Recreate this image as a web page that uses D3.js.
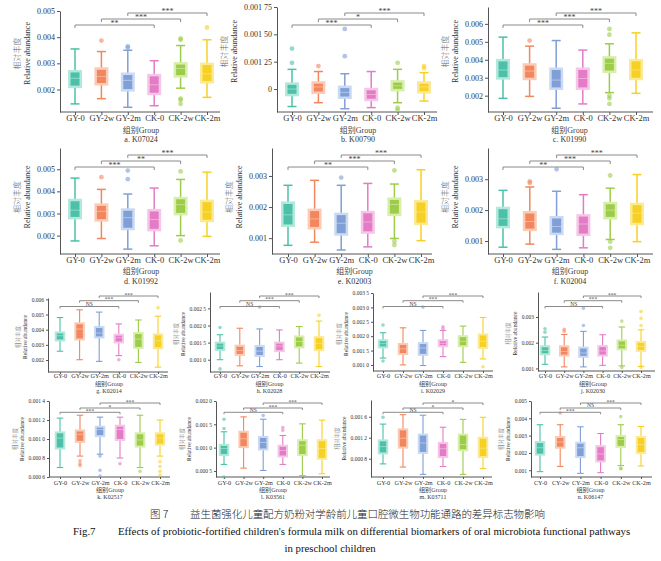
<!DOCTYPE html>
<html>
<head>
<meta charset="utf-8">
<script src="https://cdn.jsdelivr.net/npm/d3@7"></script>
<style>
  body { margin: 0; background: #fff; }
  svg { display: block; }
  text { font-family: "Liberation Serif", "Noto Sans CJK SC", serif; }
</style>
</head>
<body>
<script>
// ---- data ----
const groups  = ["GY-0", "GY-2w", "GY-2m", "CK-0", "CK-2w", "CK-2m"];
const groupsN = ["CY-0", "CY-2w", "CY-2m", "CK-0", "CK-2w", "CK-2m"]; // panel n is labelled CY in the source
const colors = ["#4cc0a8", "#f2875f", "#809fd7", "#e37cc5", "#9ccc49", "#f7d024"];
const lights = ["#b3e9db", "#fbcbb6", "#cbdaf3", "#f5c6e7", "#d8eeab", "#fce995"];

// each row: [low whisker, Q1, median, Q3, high whisker]
const boxA = [[0.00145,0.0021,0.00243,0.0027,0.00355],[0.00165,0.0022,0.0025,0.0028,0.00345],[0.00132,0.00197,0.00235,0.0026,0.0035],[0.00138,0.00183,0.00218,0.00255,0.0031],[0.00205,0.0025,0.0028,0.003,0.00368],[0.0017,0.00228,0.0026,0.00298,0.0039]];
const outA = [[],[0.00387],[0.00365,0.0036],[],[0.0039,0.00395,0.00165,0.0016,0.00145],[0.00437]];

const boxB = [[0.00084,0.000945,0.001,0.00105,0.00118],[0.000875,0.000966,0.00102,0.00106,0.00116],[0.00082,0.00092,0.00097,0.00102,0.00114],[0.00083,0.0009,0.00095,0.001,0.00116],[0.000875,0.00099,0.00103,0.00107,0.00118],[0.00089,0.00097,0.00102,0.00106,0.00115]];
const outB = [[0.00137,0.00124],[0.00121],[0.00155,0.0013],[],[0.00124,0.00083,0.00081],[0.00121,0.00119]];

const boxC = [[0.00185,0.00296,0.00343,0.00398,0.00526],[0.00196,0.00293,0.00337,0.00374,0.00476],[0.0013,0.00239,0.00287,0.0035,0.00507],[0.00154,0.00239,0.00296,0.0035,0.00454],[0.00217,0.00333,0.0038,0.00413,0.00489],[0.00213,0.00293,0.00343,0.00398,0.0055]];
const outC = [[],[0.00507],[],[],[0.00572,0.0054,0.002,0.00185,0.00154],[]];

const boxD = [[0.00176,0.00279,0.00315,0.00361,0.0046],[0.00187,0.00269,0.0031,0.0034,0.00409],[0.00139,0.0023,0.00281,0.00318,0.00388],[0.00154,0.00225,0.00273,0.00315,0.00415],[0.002,0.00297,0.0034,0.0037,0.00454],[0.00197,0.00266,0.00307,0.00357,0.00487]];
const outD = [[],[0.00464],[0.00494,0.00455],[],[0.0049,0.00178],[]];

const boxE = [[0.00077,0.0014,0.00175,0.00214,0.0027],[0.00087,0.00132,0.00162,0.00191,0.00286],[0.00062,0.00112,0.00148,0.00178,0.0027],[0.00072,0.00118,0.00152,0.00184,0.00276],[0.00099,0.00175,0.00208,0.00227,0.00274],[0.00092,0.00146,0.00184,0.00219,0.0032]];
const outE = [[],[],[0.00295],[],[0.00318,0.0009,0.00078],[]];

const boxF = [[0.0008,0.00145,0.00172,0.00207,0.00264],[0.0009,0.00136,0.00163,0.00193,0.00275],[0.00073,0.00123,0.00147,0.00177,0.00261],[0.00078,0.0012,0.00155,0.00183,0.0025],[0.00105,0.00174,0.002,0.00223,0.00271],[0.00098,0.00155,0.0019,0.0022,0.00315]];
const outF = [[],[0.00293,0.00288],[0.00332],[],[0.00312,0.00098,0.00078],[]];

const boxG = [[0.00258,0.00329,0.0036,0.00382,0.0048],[0.00202,0.00336,0.00404,0.00442,0.00531],[0.00191,0.00349,0.00378,0.00418,0.00516],[0.00229,0.00316,0.00347,0.00367,0.00438],[0.00184,0.0028,0.00338,0.00378,0.00464],[0.00153,0.00278,0.00327,0.00369,0.00489]];
const outG = [[],[],[],[0.00202],[],[0.00544]];

const boxH = [[0.001,0.00128,0.0014,0.0015,0.00173],[0.00082,0.00114,0.00127,0.00141,0.00192],[0.0008,0.00111,0.00125,0.0014,0.0019],[0.001,0.00125,0.0014,0.0015,0.00187],[0.0009,0.00136,0.00153,0.00168,0.00197],[0.0008,0.00128,0.00148,0.00166,0.00213]];
const outH = [[0.00194,0.00073],[],[0.00254],[],[],[0.0023]];

const boxI = [[0.00124,0.00161,0.00174,0.00186,0.00212],[0.001,0.00138,0.00156,0.00173,0.00229],[0.00098,0.00135,0.00159,0.00176,0.0022],[0.00129,0.00165,0.00175,0.00186,0.0022],[0.00109,0.00165,0.00182,0.002,0.00235],[0.00121,0.00159,0.00182,0.00206,0.00265]];
const outI = [[0.00239,0.00114],[],[0.00301],[0.00233,0.00226],[],[0.00094]];

const boxJ = [[0.00116,0.00155,0.0017,0.00186,0.00222],[0.00106,0.0015,0.00166,0.00186,0.00232],[0.00106,0.00145,0.0016,0.00181,0.00244],[0.00112,0.0015,0.00168,0.00187,0.00231],[0.0011,0.00174,0.0019,0.00209,0.00261],[0.00108,0.00168,0.00186,0.00203,0.0025]];
const outJ = [[0.00254,0.00241],[0.00252,0.00244],[0.00334,0.00267],[],[0.00284,0.00104],[0.00321,0.00295,0.00267,0.00104]];

const boxK = [[0.0007,0.0009,0.00101,0.00107,0.00122],[0.00082,0.00097,0.00105,0.00109,0.00125],[0.00084,0.00103,0.0011,0.00113,0.00123],[0.0008,0.00099,0.0011,0.00114,0.00123],[0.0007,0.00092,0.00099,0.00106,0.00125],[0.00082,0.00094,0.00101,0.00106,0.0012]];
const outK = [[],[0.00077,0.00074,0.00072],[0.00082,0.00067,0.00061],[0.00074],[0.00066],[0.00076,0.00071,0.00066,0.00062]];

const boxL = [[0.00064,0.00084,0.00098,0.00106,0.00134],[0.00056,0.00101,0.00119,0.00134,0.00166],[0.00051,0.00096,0.00111,0.00123,0.00161],[0.00064,0.00081,0.00094,0.00104,0.00126],[0.0004,0.00084,0.00105,0.00116,0.00151],[0.00044,0.00076,0.00098,0.00116,0.00159]];
const outL = [[0.00161,0.00141,0.00037],[],[0.00169],[0.00143,0.00137],[],[]];

const boxM = [[0.0007,0.0009,0.00103,0.00115,0.00146],[0.00064,0.00101,0.00119,0.00136,0.00164],[0.0005,0.00091,0.0011,0.00126,0.00163],[0.00065,0.00083,0.00099,0.0011,0.0014],[0.0005,0.00096,0.00107,0.00126,0.00155],[0.00061,0.00083,0.001,0.0012,0.00159]];
const outM = [[0.00159],[],[],[],[],[]];

const boxN = [[0.00092,0.0019,0.0023,0.00263,0.00363],[0.00122,0.0023,0.00263,0.00292,0.00363],[0.00082,0.00176,0.0023,0.00259,0.00351],[0.00086,0.00151,0.00194,0.00239,0.00312],[0.00127,0.00235,0.00278,0.00298,0.00363],[0.00125,0.002,0.00249,0.00292,0.00353]];
const outN = [[],[0.00431],[],[],[0.0041,0.00112,0.00108],[]];

// y tick values and their printed labels
const ticksA = [0.002,0.003,0.004,0.005],  tlabA = ["0.002","0.003","0.004","0.005"];
const ticksB = [0.001,0.00125,0.0015,0.00175], tlabB = ["0","0.001 25","0.001 50","0.001 75"];
const ticksC = [0.002,0.003,0.004,0.005,0.006], tlabC = ["0.002","0.003","0.004","0.005","0.006"];
const ticksD = [0.002,0.003,0.004,0.005],  tlabD = ["0.002","0.003","0.004","0.005"];
const ticksE = [0.001,0.002,0.003], tlabE = ["0.001","0.002","0.003"];
const ticksF = [0.001,0.002,0.003], tlabF = ["0.001","0.002","0.003"];
const ticksG = [0.002,0.003,0.004,0.005,0.006], tlabG = ["0.002","0.003","0.004","0.005","0.006"];
const ticksH = [0.001,0.0015,0.002,0.0025], tlabH = ["0.001 0","0.001 5","0.002 0","0.002 5"];
const ticksI = [0.001,0.0015,0.002,0.0025,0.003,0.0035], tlabI = ["0.001 0","0.001 5","0.002 0","0.002 5","0.003 0","0.003 5"];
const ticksJ = [0.001,0.002,0.003], tlabJ = ["0.001","0.002","0.003"];
const ticksK = [0.0006,0.0008,0.001,0.0012,0.0014], tlabK = ["0.000 6","0.000 8","0.001 0","0.001 2","0.001 4"];
const ticksL = [0.0005,0.001,0.0015,0.002], tlabL = ["0.000 5","0.001 0","0.001 5","0.002 0"];
const ticksM = [0.0008,0.0012,0.0016], tlabM = ["0.000 8","0.001 2","0.001 6"];
const ticksN = [0.001,0.002,0.003,0.004,0.005], tlabN = ["0.001","0.002","0.003","0.004","0.005"];

// significance for pairs (GY-0,CK-0), (GY-2w,CK-2w), (GY-2m,CK-2m)
const sigPairs = [[0,3],[1,4],[2,5]];
const sigA = ["**","***","***"], sigB = ["***","*","***"], sigC = ["***","***","***"];
const sigD = ["***","**","***"], sigE = ["**","***","***"], sigF = ["**","***","***"];
const sigG = ["NS","***","***"], sigH = ["NS","***","***"], sigI = ["NS","***","***"], sigJ = ["NS","***","***"];
const sigK = ["***","*","***"], sigL = ["NS","***","***"], sigM = ["NS","*","*"], sigN = ["***","NS","***"];

const titles = ["a. K07024","b. K00790","c. K01990","d. K01992","e. K02003","f. K02004","g. K02014",
                "h. K02028","i. K02029","j. K02030","k. K02517","l. K03561","m. K03711","n. K06147"];

// ---- layout ----
const W = 661, H = 561;
const rows = [
  {br:[25,19,13],        xlab:121,   grp:133, ttl:142, tdy:-8, big:true},
  {br:[167,161,155],     xlab:263,   grp:274, ttl:284, tdy:-4, big:true},
  {br:[306.5,300.7,296], xlab:378,   grp:386, ttl:393, tdy:2,  big:false},
  {br:[412.3,408,403],   xlab:484.5, grp:492, ttl:499, tdy:0,  big:false}
];
const big   = {boxW:11.5, bs:2.5, capW:9,   wk:1.5, r:2.4, tick:3, xf:8.5, yf:8,   gf:8,   tf:8,   sf:8,   ytf:8,   en:7, cn:17, bt:3};
const small = {boxW:8.5,  bs:2,   capW:6.5, wk:1.1, r:1.8, tick:2, xf:6.2, yf:5.5, gf:6.2, tf:6,   sf:5.6, ytf:5.6, en:5, cn:12, bt:2};

const panels = [
  {box:boxA, out:outA, ticks:ticksA, tl:tlabA, sig:sigA, row:0, ax:60,  xe:220, c0:75,  c1:207, yt:11,  yb:112, lo:0.00114, hi:0.005},
  {box:boxB, out:outB, ticks:ticksB, tl:tlabB, sig:sigB, row:0, ax:277, xe:437, c0:292, c1:424, yt:7,   yb:112, lo:0.00079, hi:0.00175},
  {box:boxC, out:outC, ticks:ticksC, tl:tlabC, sig:sigC, row:0, ax:488, xe:653, c0:503, c1:636, yt:7,   yb:112, lo:0.00109, hi:0.00694},
  {box:boxD, out:outD, ticks:ticksD, tl:tlabD, sig:sigD, row:1, ax:60,  xe:220, c0:75,  c1:207, yt:148, yb:254, lo:0.00117, hi:0.00596},
  {box:boxE, out:outE, ticks:ticksE, tl:tlabE, sig:sigE, row:1, ax:272, xe:432, c0:288, c1:421, yt:148, yb:254, lo:0.00049, hi:0.0039},
  {box:boxF, out:outF, ticks:ticksF, tl:tlabF, sig:sigF, row:1, ax:488, xe:653, c0:503, c1:637, yt:148, yb:254, lo:0.00058, hi:0.00401},
  {box:boxG, out:outG, ticks:ticksG, tl:tlabG, sig:sigG, row:2, ax:48,  xe:168, c0:60,  c1:158, yt:298, yb:372, lo:0.00121, hi:0.00609},
  {box:boxH, out:outH, ticks:ticksH, tl:tlabH, sig:sigH, row:2, ax:210, xe:330, c0:220, c1:319, yt:292, yb:372, lo:0.00064, hi:0.00298},
  {box:boxI, out:outI, ticks:ticksI, tl:tlabI, sig:sigI, row:2, ax:373, xe:493, c0:383, c1:483, yt:293, yb:371, lo:0.00079, hi:0.0035},
  {box:boxJ, out:outJ, ticks:ticksJ, tl:tlabJ, sig:sigJ, row:2, ax:538, xe:655, c0:545, c1:641, yt:292, yb:371, lo:0.0009,  hi:0.00397},
  {box:boxK, out:outK, ticks:ticksK, tl:tlabK, sig:sigK, row:3, ax:49,  xe:170, c0:60,  c1:160, yt:401, yb:477, lo:0.0006,  hi:0.0014},
  {box:boxL, out:outL, ticks:ticksL, tl:tlabL, sig:sigL, row:3, ax:216, xe:330, c0:224, c1:322, yt:401, yb:477, lo:0.00037, hi:0.002},
  {box:boxM, out:outM, ticks:ticksM, tl:tlabM, sig:sigM, row:3, ax:371, xe:492, c0:383, c1:483, yt:400, yb:477, lo:0.00045, hi:0.00192},
  {box:boxN, out:outN, ticks:ticksN, tl:tlabN, sig:sigN, row:3, ax:531, xe:652, c0:540, c1:641, yt:401, yb:477, lo:0.00061, hi:0.005}
];

const svg = d3.select("body").append("svg")
  .attr("width", W).attr("height", H);

panels.forEach((p, pi) => {
  const R = rows[p.row];
  const S = R.big ? big : small;
  const cats = pi === 13 ? groupsN : groups;
  const g = svg.append("g");

  const x = d3.scalePoint().domain(d3.range(6)).range([p.c0, p.c1]);
  const y = d3.scaleLinear().domain([p.lo, p.hi]).range([p.yb, p.yt]);

  // y axis
  const yAx = g.append("g")
    .attr("transform", "translate(" + p.ax + ",0)")
    .call(d3.axisLeft(y).tickValues(p.ticks).tickFormat((d, i) => p.tl[i])
      .tickSize(S.tick).tickSizeOuter(0).tickPadding(2));
  yAx.select(".domain").attr("stroke", "#555");
  yAx.selectAll(".tick line").attr("stroke", "#555");
  yAx.selectAll("text").attr("font-size", S.yf).attr("fill", "#333")
    .style("font-family", "Liberation Serif");

  // x axis
  const xAx = g.append("g")
    .attr("transform", "translate(0," + p.yb + ")")
    .call(d3.axisBottom(x).tickFormat(i => cats[i]).tickSize(S.tick).tickSizeOuter(0));
  xAx.select(".domain").remove();
  xAx.selectAll(".tick line").attr("stroke", "#555");
  xAx.selectAll("text").attr("font-size", S.xf).attr("fill", "#333")
    .attr("dy", null).attr("y", R.xlab - p.yb)
    .style("font-family", "Liberation Serif");
  g.append("line")
    .attr("x1", p.ax).attr("x2", p.xe).attr("y1", p.yb).attr("y2", p.yb)
    .attr("stroke", "#555");

  // y titles, placed left of the tick labels
  let left = d3.min(yAx.selectAll("text").nodes(), n => n.getBBox().x) + p.ax;
  const cy = (p.yt + p.yb) / 2 + R.tdy;
  g.append("text")
    .attr("transform", "translate(" + (left - S.en) + "," + cy + ") rotate(-90)")
    .attr("text-anchor", "middle").attr("font-size", S.ytf).attr("fill", "#333")
    .text("Relative abundance");
  g.append("text")
    .attr("transform", "translate(" + (left - S.cn) + "," + cy + ") rotate(-90)")
    .attr("text-anchor", "middle").attr("font-size", S.ytf).attr("fill", "#666")
    .style("font-family", "Noto Sans CJK SC").style("font-weight", 300)
    .text("相对丰度");

  // boxes
  const bx = g.selectAll("g.box").data(p.box).join("g").attr("class", "box");
  bx.append("line")
    .attr("x1", (d, i) => x(i)).attr("x2", (d, i) => x(i))
    .attr("y1", d => y(d[0])).attr("y2", d => y(d[4]))
    .attr("stroke", (d, i) => colors[i]).attr("stroke-width", S.wk);
  [0, 4].forEach(k => {
    bx.append("line")
      .attr("x1", (d, i) => x(i) - S.capW / 2).attr("x2", (d, i) => x(i) + S.capW / 2)
      .attr("y1", d => y(d[k])).attr("y2", d => y(d[k]))
      .attr("stroke", (d, i) => colors[i]).attr("stroke-width", S.wk);
  });
  bx.append("rect")
    .attr("x", (d, i) => x(i) - S.boxW / 2).attr("width", S.boxW)
    .attr("y", d => y(d[3])).attr("height", d => y(d[1]) - y(d[3]))
    .attr("fill", (d, i) => colors[i])
    .attr("stroke", (d, i) => lights[i]).attr("stroke-width", S.bs);
  bx.append("line")
    .attr("x1", (d, i) => x(i) - S.boxW / 2).attr("x2", (d, i) => x(i) + S.boxW / 2)
    .attr("y1", d => y(d[2])).attr("y2", d => y(d[2]))
    .attr("stroke", (d, i) => lights[i]).attr("stroke-width", 0.8).attr("opacity", 0.8);

  // outliers
  const pts = [];
  p.out.forEach((arr, i) => arr.forEach(v => pts.push({i, v})));
  g.selectAll("circle.out").data(pts).join("circle").attr("class", "out")
    .attr("cx", d => x(d.i)).attr("cy", d => y(d.v)).attr("r", S.r)
    .attr("fill", d => colors[d.i]).attr("opacity", 0.6);

  // significance brackets
  sigPairs.forEach((pr, k) => {
    const by = R.br[k];
    const x1 = x(pr[0]), x2 = x(pr[1]);
    g.append("path")
      .attr("d", "M" + x1 + "," + (by + S.bt) + "V" + by + "H" + x2 + "V" + (by + S.bt))
      .attr("fill", "none").attr("stroke", "#8a8a8a").attr("stroke-width", 1);
    const lab = p.sig[k];
    g.append("text")
      .attr("x", (x1 + x2) / 2)
      .attr("y", lab === "NS" ? by - 0.8 : by + S.sf * 0.12)
      .attr("text-anchor", "middle").attr("font-size", S.sf).attr("fill", "#444")
      .text(lab);
  });

  // group label and panel title
  const mid = (p.c0 + p.c1) / 2;
  g.append("text").attr("x", mid).attr("y", R.grp).attr("text-anchor", "middle")
    .attr("font-size", S.gf).attr("fill", "#444").text("组别Group");
  g.append("text").attr("x", mid).attr("y", R.ttl).attr("text-anchor", "middle")
    .attr("font-size", S.tf).attr("fill", "#333").text(titles[pi]);
});

// ---- caption ----
svg.append("text").attr("x", 150).attr("y", 518).attr("font-size", 10.5).attr("fill", "#222")
  .style("font-family", "Noto Sans CJK SC").style("font-weight", 300).text("图 7");
svg.append("text").attr("x", 190).attr("y", 518).attr("font-size", 10.5).attr("fill", "#222")
  .style("font-family", "Noto Sans CJK SC").style("font-weight", 300)
  .attr("textLength", 355).attr("lengthAdjust", "spacing")
  .text("益生菌强化儿童配方奶粉对学龄前儿童口腔微生物功能通路的差异标志物影响");
svg.append("text").attr("x", 73).attr("y", 535).attr("font-size", 10.8).attr("fill", "#111")
  .text("Fig.7");
svg.append("text").attr("x", 118).attr("y", 535).attr("font-size", 10.8).attr("fill", "#111")
  .text("Effects of probiotic-fortified children's formula milk on differential biomarkers of oral microbiota functional pathways");
svg.append("text").attr("x", 330).attr("y", 552).attr("font-size", 10.8).attr("fill", "#111")
  .attr("text-anchor", "middle").text("in preschool children");
</script>
</body>
</html>
